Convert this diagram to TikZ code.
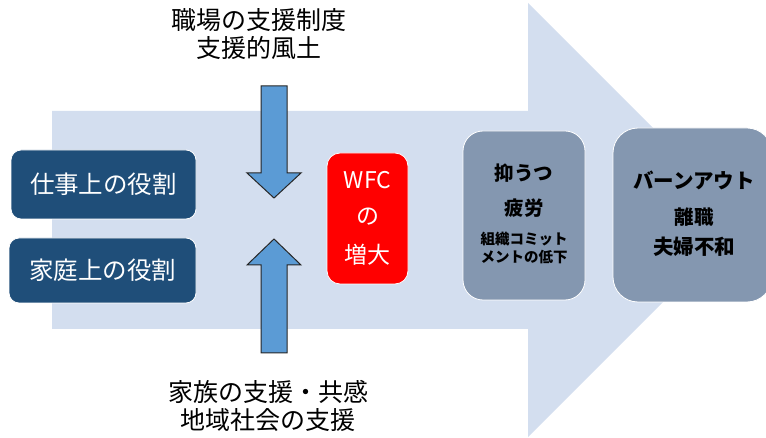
\documentclass[tikz,border=0pt]{standalone}
\usepackage{fontspec}
\setmainfont{Noto Sans CJK JP}
\definecolor{bigarrow}{HTML}{D3DEEF}
\definecolor{rolebox}{HTML}{1F4E79}
\definecolor{outbox}{HTML}{8497B0}
\definecolor{pushblue}{HTML}{5B9BD5}
\begin{document}
\begin{tikzpicture}[x=1pt,y=-1pt,
  role/.style={draw=white,line width=0.8pt,fill=rolebox,rounded corners=10pt},
  roletext/.style={text=white,font=\fontsize{24.5}{28}\selectfont},
  wfc/.style={draw=white,line width=0.8pt,fill=red,rounded corners=13pt},
  wfctext/.style={text=white,font=\fontsize{23}{28}\selectfont},
  outc/.style={draw=white,line width=0.8pt,fill=outbox},
  outbig/.style={text=black,font=\bfseries\fontsize{19.5}{24}\selectfont},
  outsmall/.style={text=black,font=\bfseries\fontsize{14.5}{18}\selectfont},
  push/.style={draw=black!85,line width=1pt,fill=pushblue,line join=miter},
  label/.style={align=center,text=black,font=\fontsize{25}{28}\selectfont}]
\useasboundingbox (0,0) rectangle (766,438);
% big arrow
\fill[bigarrow] (52,111) -- (528,111) -- (528,3) -- (745,220) -- (528,437) -- (528,329) -- (52,329) -- cycle;
% role boxes
\path[role] (11,150) rectangle (196,219);
\node[roletext] (work) at (103.5,184.5) {仕事上の役割};
\path[role] (9,238) rectangle (196,303);
\node[roletext] (home) at (102.5,270.5) {家庭上の役割};
% WFC box
\path[wfc] (327,153) rectangle (408,284);
\node[wfctext] (wfc1) at (367.5,180) {WFC};
\node[wfctext] (wfc2) at (367.5,217) {の};
\node[wfctext] (wfc3) at (367.5,255) {増大};
% outcome boxes
\path[outc,rounded corners=20pt] (463,131) rectangle (585,300);
\node[outbig] (dep1) at (524,173) {抑うつ};
\node[outbig] (dep2) at (524,208) {疲労};
\node[outsmall] (dep3) at (524,239) {組織コミット};
\node[outsmall] (dep4) at (524,257) {メントの低下};
\path[outc,rounded corners=25pt] (613,128) rectangle (772,302);
\node[outbig,font=\bfseries\fontsize{20.5}{24}\selectfont] (burn1) at (694,180) {バーンアウト};
\node[outbig] (burn2) at (694,217) {離職};
\node[outbig,font=\bfseries\fontsize{20.5}{24}\selectfont] (burn3) at (694,247) {夫婦不和};
% push arrows
\path[push] (261,86) -- (287,86) -- (287,173) -- (301,173) -- (274,198) -- (247,173) -- (261,173) -- cycle;
\path[push] (261,353) -- (287,353) -- (287,265) -- (301,265) -- (274,239) -- (247,265) -- (261,265) -- cycle;
% labels
\node[label] (top) at (259,34) {職場の支援制度\\支援的風土};
\node[label] (bottom) at (268,406) {家族の支援・共感\\地域社会の支援};
\end{tikzpicture}
\end{document}
